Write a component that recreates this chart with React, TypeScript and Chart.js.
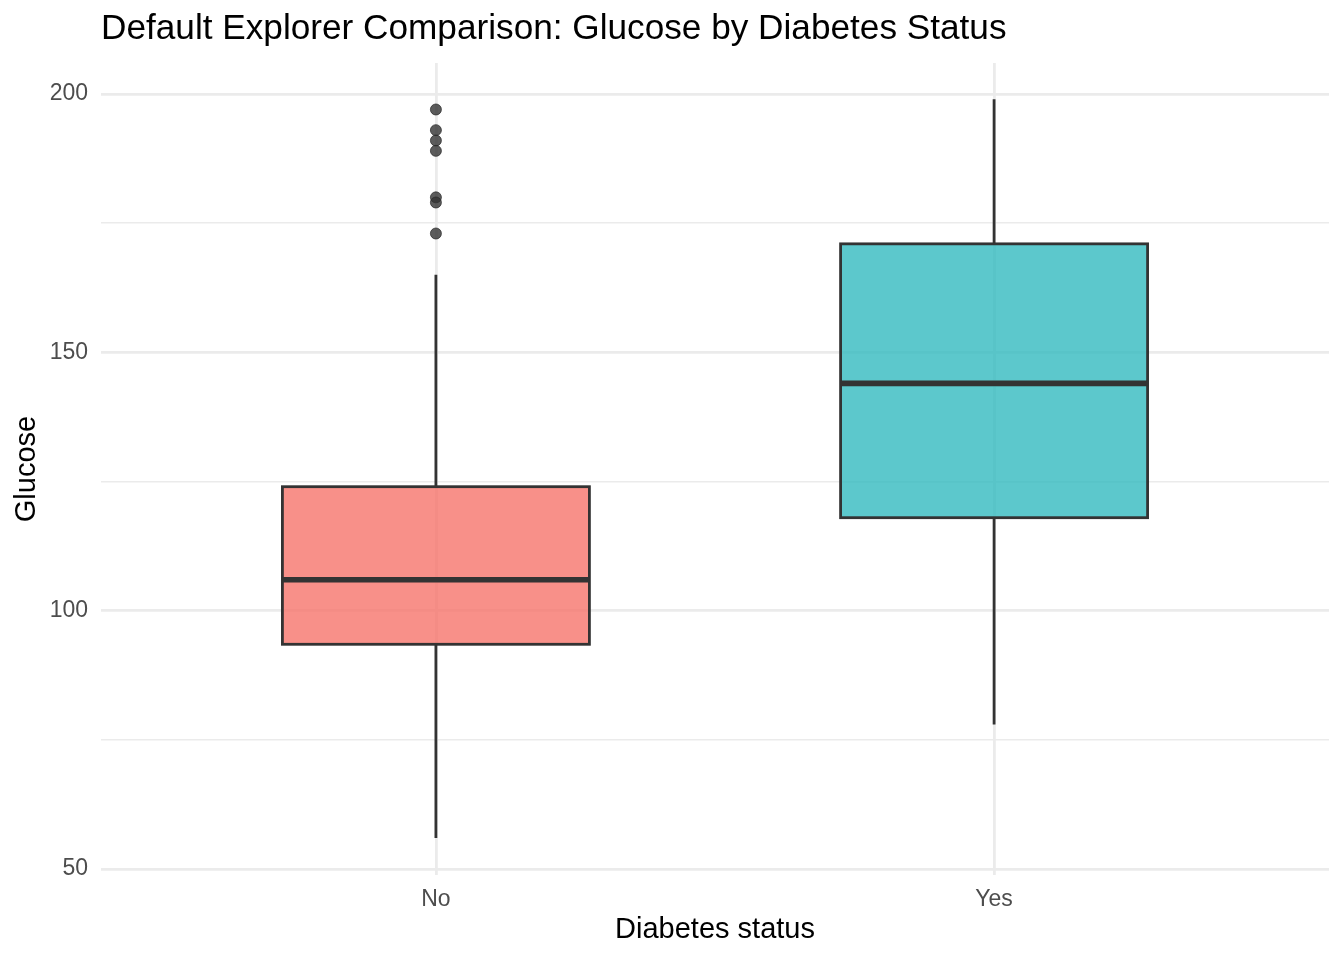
import React, { useEffect, useRef } from "react";
import { Chart, registerables } from "chart.js";

Chart.register(...registerables);

const categories = ["No", "Yes"];
const lowerWhisker = [56, 78];
const q1Values = [93.5, 118];
const medianValues = [106, 144];
const q3Values = [124, 171];
const upperWhisker = [165, 199];
const outliersNo = [197, 193, 191, 189, 180, 179, 173];
const outliersYes: number[] = [];
const boxFills = ["rgba(246,116,108,0.8)", "rgba(51,186,191,0.8)"];
const yMajorTicks = [50, 100, 150, 200];
const yMinorTicks = [75, 125, 175];
const yRange = [48.85, 206.0];
const xRange = [0.4, 2.6];

const titleText = "Default Explorer Comparison: Glucose by Diabetes Status";
const xTitle = "Diabetes status";
const yTitle = "Glucose";

const FONT = "'Liberation Sans', Arial, Helvetica, sans-serif";
const BOX_WIDTH = 0.55;
const EDGE = "#333333";

const boxPlugin = {
  id: "boxPlugin",
  beforeDatasetsDraw(chart: any) {
    const { ctx } = chart;
    const xs = chart.scales.x;
    const ys = chart.scales.y;
    ctx.save();
    categories.forEach((_, i) => {
      const cx = xs.getPixelForValue(i + 1);
      const left = xs.getPixelForValue(i + 1 - BOX_WIDTH / 2);
      const right = xs.getPixelForValue(i + 1 + BOX_WIDTH / 2);
      const yLow = ys.getPixelForValue(lowerWhisker[i]);
      const yQ1 = ys.getPixelForValue(q1Values[i]);
      const yMed = ys.getPixelForValue(medianValues[i]);
      const yQ3 = ys.getPixelForValue(q3Values[i]);
      const yHigh = ys.getPixelForValue(upperWhisker[i]);
      // whiskers
      ctx.strokeStyle = EDGE;
      ctx.lineWidth = 2.8;
      ctx.lineCap = "butt";
      ctx.beginPath();
      ctx.moveTo(cx, yHigh);
      ctx.lineTo(cx, yQ3);
      ctx.moveTo(cx, yQ1);
      ctx.lineTo(cx, yLow);
      ctx.stroke();
      // box
      ctx.fillStyle = boxFills[i];
      ctx.fillRect(left, yQ3, right - left, yQ1 - yQ3);
      ctx.lineJoin = "miter";
      ctx.strokeRect(left, yQ3, right - left, yQ1 - yQ3);
      // median
      ctx.lineWidth = 5.6;
      ctx.beginPath();
      ctx.moveTo(left, yMed);
      ctx.lineTo(right, yMed);
      ctx.stroke();
    });
    ctx.restore();
  },
  afterDraw(chart: any) {
    const { ctx, chartArea } = chart;
    ctx.save();
    ctx.fillStyle = "#000000";
    ctx.font = `35.2px ${FONT}`;
    ctx.textAlign = "left";
    ctx.textBaseline = "middle";
    ctx.fillText(titleText, chartArea.left, 29);
    ctx.restore();
  },
};

export default function App() {
  const canvasRef = useRef<HTMLCanvasElement | null>(null);

  useEffect(() => {
    const canvas = canvasRef.current;
    if (!canvas) return;
    const outlierPoints = [
      ...outliersNo.map((v) => ({ x: 1, y: v })),
      ...outliersYes.map((v) => ({ x: 2, y: v })),
    ];
    const chart = new Chart(canvas, {
      type: "scatter",
      data: {
        datasets: [
          {
            data: outlierPoints,
            backgroundColor: "rgba(51,51,51,0.8)",
            borderColor: "rgba(40,40,40,0.9)",
            borderWidth: 0.8,
            pointRadius: 5.5,
            pointHoverRadius: 5.5,
          },
        ],
      },
      options: {
        animation: false,
        responsive: false,
        devicePixelRatio: 1,
        layout: { padding: { top: 63, right: 15, left: 0, bottom: 0 } },
        plugins: {
          legend: { display: false },
          tooltip: { enabled: false },
          title: { display: false },
        },
        scales: {
          x: {
            type: "linear",
            min: xRange[0],
            max: xRange[1],
            afterBuildTicks: (scale: any) => {
              scale.ticks = categories.map((_, i) => ({ value: i + 1 }));
            },
            afterFit: (scale: any) => {
              scale.height = 85;
            },
            ticks: {
              callback: (v: any) => categories[Math.round(Number(v)) - 1] ?? "",
              font: { family: FONT, size: 23 },
              color: "#4d4d4d",
              padding: 11,
              maxRotation: 0,
              autoSkip: false,
            },
            grid: {
              color: "#ebebeb",
              lineWidth: 2.8,
              drawTicks: false,
            },
            border: { display: false },
            title: {
              display: true,
              text: xTitle,
              font: { family: FONT, size: 29 },
              color: "#000000",
              padding: { top: 0, bottom: 12.5 },
            },
          },
          y: {
            type: "linear",
            min: yRange[0],
            max: yRange[1],
            afterBuildTicks: (scale: any) => {
              scale.ticks = [...yMajorTicks, ...yMinorTicks]
                .sort((a, b) => a - b)
                .map((v) => ({ value: v }));
            },
            afterFit: (scale: any) => {
              scale.width = 101;
            },
            ticks: {
              callback: (v: any) => (yMajorTicks.includes(Number(v)) ? String(v) : ""),
              font: { family: FONT, size: 23 },
              color: "#4d4d4d",
              padding: 13,
              autoSkip: false,
            },
            grid: {
              color: "#ebebeb",
              lineWidth: (ctx: any) =>
                ctx.tick && yMajorTicks.includes(ctx.tick.value) ? 2.8 : 1.4,
              drawTicks: false,
            },
            border: { display: false },
            title: {
              display: true,
              text: yTitle,
              font: { family: FONT, size: 29 },
              color: "#000000",
              padding: { top: 9.5, bottom: 0 },
            },
          },
        },
      },
      plugins: [boxPlugin],
    });
    return () => chart.destroy();
  }, []);

  return (
    <div style={{ position: "absolute", left: 0, top: 0, width: 1344, height: 960, background: "#ffffff" }}>
      <canvas ref={canvasRef} width={1344} height={960} style={{ display: "block" }} />
    </div>
  );
}
